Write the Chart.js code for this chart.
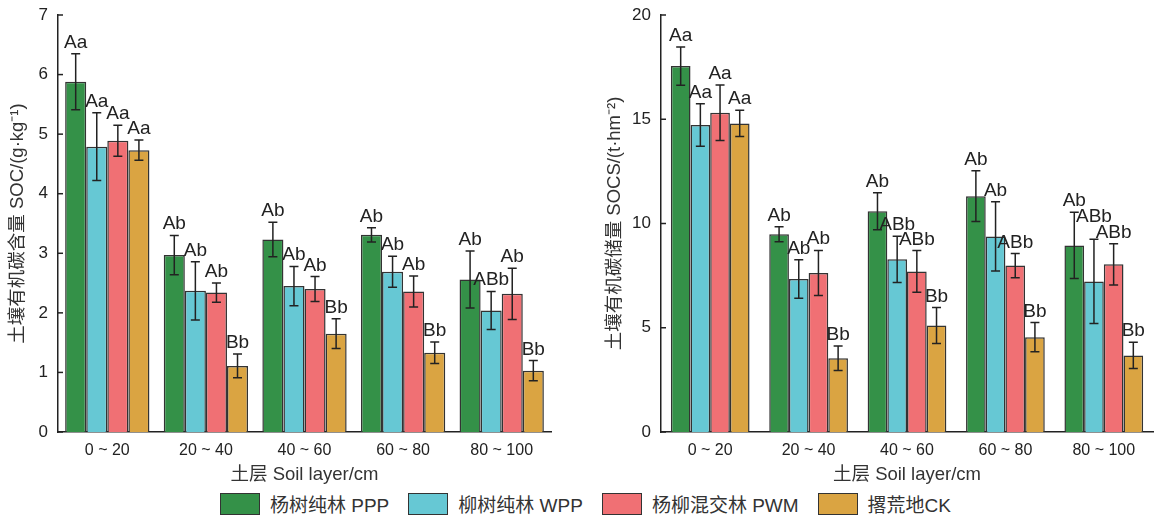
<!DOCTYPE html>
<html>
<head>
<meta charset="utf-8">
<script src="https://cdn.jsdelivr.net/npm/chart.js@4/dist/chart.umd.min.js"></script>
<style>
  body { margin: 0; background: #fff; }
  #wrap { position: relative; width: 1163px; height: 519px; font-family: "Liberation Sans", "Noto Sans CJK SC", sans-serif; }
  #c1 { position: absolute; left: 0; top: 0; }
  #c2 { position: absolute; left: 580px; top: 0; }
  #legend { position: absolute; left: 220px; top: 490px; display: flex; align-items: center; font-size: 19px; color: #333; }
  #legend .item { display: flex; align-items: center; margin-right: 19px; }
  #legend .box { width: 40px; height: 22px; border: 1.5px solid #333; margin-right: 10px; box-sizing: border-box; }
</style>
</head>
<body>
<div id="wrap">
  <canvas id="c1" width="580" height="490"></canvas>
  <canvas id="c2" width="583" height="490"></canvas>
  <div id="legend"></div>
</div>
<script>
// 土层
const layers = ["0 ~ 20", "20 ~ 40", "40 ~ 60", "60 ~ 80", "80 ~ 100"];
const seriesNames = ["杨树纯林 PPP", "柳树纯林 WPP", "杨柳混交林 PWM", "撂荒地CK"];
const colors = ["#349148", "#66c8d4", "#f07074", "#daa442"];

// SOC (g/kg)
const socPPP = [5.88, 2.97, 3.23, 3.31, 2.56];
const socWPP = [4.79, 2.37, 2.45, 2.69, 2.04];
const socPWM = [4.89, 2.34, 2.40, 2.36, 2.32];
const socCK  = [4.73, 1.11, 1.65, 1.33, 1.03];
const socPPPErr = [0.47, 0.33, 0.29, 0.12, 0.48];
const socWPPErr = [0.57, 0.49, 0.33, 0.26, 0.32];
const socPWMErr = [0.26, 0.16, 0.21, 0.26, 0.43];
const socCKErr  = [0.17, 0.20, 0.25, 0.18, 0.17];
const socPPPSig = ["Aa", "Ab", "Ab", "Ab", "Ab"];
const socWPPSig = ["Aa", "Ab", "Ab", "Ab", "ABb"];
const socPWMSig = ["Aa", "Ab", "Ab", "Ab", "Ab"];
const socCKSig  = ["Aa", "Bb", "Bb", "Bb", "Bb"];

// SOCS (t/hm2)
const socsPPP = [17.55, 9.48, 10.59, 11.31, 8.95];
const socsWPP = [14.72, 7.34, 8.28, 9.38, 7.22];
const socsPWM = [15.31, 7.63, 7.70, 7.98, 8.04];
const socsCK  = [14.80, 3.54, 5.11, 4.55, 3.67];
const socsPPPErr = [0.92, 0.36, 0.89, 1.22, 1.59];
const socsWPPErr = [1.02, 0.92, 1.11, 1.66, 2.02];
const socsPWMErr = [1.33, 1.08, 1.00, 0.58, 0.99];
const socsCKErr  = [0.63, 0.59, 0.86, 0.70, 0.63];
const socsPPPSig = ["Aa", "Ab", "Ab", "Ab", "Ab"];
const socsWPPSig = ["Aa", "Ab", "ABb", "Ab", "ABb"];
const socsPWMSig = ["Aa", "Ab", "ABb", "ABb", "ABb"];
const socsCKSig  = ["Aa", "Bb", "Bb", "Bb", "Bb"];

const fontFam = '"Liberation Sans", "Noto Sans CJK SC", sans-serif';

function hit(a, b) {
    const ox = Math.min(a.r, b.r) - Math.max(a.l, b.l);
    const oy = Math.min(a.b, b.b) - Math.max(a.t, b.t);
    return ox > 5 && oy > 3;
}

// 误差线 + 显著性字母
const errorBarPlugin = {
    id: "errorBars",
    afterDatasetsDraw(chart) {
        const ctx = chart.ctx;
        const y = chart.scales.y;
        const n = chart.data.labels.length;
        ctx.save();
        ctx.font = "19px " + fontFam;
        for (let j = 0; j < n; j++) {
            const boxes = [];
            chart.data.datasets.forEach((ds, i) => {
                const bar = chart.getDatasetMeta(i).data[j];
                const v = ds.data[j], e = ds.err[j];
                const yt = y.getPixelForValue(v + e);
                const yb = y.getPixelForValue(v - e);
                ctx.strokeStyle = "#222";
                ctx.lineWidth = 1.5;
                ctx.beginPath();
                ctx.moveTo(bar.x, yt); ctx.lineTo(bar.x, yb);
                ctx.moveTo(bar.x - 4.5, yt); ctx.lineTo(bar.x + 4.5, yt);
                ctx.moveTo(bar.x - 4.5, yb); ctx.lineTo(bar.x + 4.5, yb);
                ctx.stroke();
                const w = ctx.measureText(ds.sig[j]).width;
                const base = yt - 6;
                const box = { l: bar.x - w / 2, r: bar.x + w / 2, t: base - 14, b: base, txt: ds.sig[j], x: bar.x };
                boxes.push(box);
                // 与左侧字母重叠时, 把左侧字母上移
                let moved = true;
                while (moved) {
                    moved = false;
                    for (let a = boxes.length - 1; a > 0; a--) {
                        for (let b = a - 1; b >= 0; b--) {
                            if (hit(boxes[a], boxes[b])) {
                                const dy = boxes[b].b - (boxes[a].t - 2);
                                boxes[b].t -= dy; boxes[b].b -= dy;
                                moved = true;
                            }
                        }
                    }
                }
            });
            ctx.fillStyle = "#222";
            ctx.textAlign = "center";
            ctx.textBaseline = "alphabetic";
            boxes.forEach(b => ctx.fillText(b.txt, b.x, b.b));
        }
        ctx.restore();
    }
};

// y轴向内刻度
const innerTicks = {
    id: "innerTicks",
    afterDraw(chart) {
        const ctx = chart.ctx;
        const y = chart.scales.y;
        const left = chart.chartArea.left;
        ctx.save();
        ctx.strokeStyle = "#222";
        ctx.lineWidth = 1.5;
        y.ticks.forEach(t => {
            const py = y.getPixelForValue(t.value);
            ctx.beginPath();
            ctx.moveTo(left, py); ctx.lineTo(left + 5, py);
            ctx.stroke();
        });
        ctx.restore();
    }
};

function makeChart(id, values, errs, sigs, yMax, yStep, yTitle, catPct, padLeft, yWidth, padRight) {
    const datasets = values.map((v, i) => ({
        label: seriesNames[i],
        data: v,
        err: errs[i],
        sig: sigs[i],
        backgroundColor: colors[i],
        borderColor: "#333",
        borderWidth: 1.5,
        barPercentage: 1,
        categoryPercentage: catPct
    }));
    return new Chart(document.getElementById(id).getContext("2d"), {
        type: "bar",
        data: { labels: layers, datasets: datasets },
        options: {
            responsive: false,
            animation: false,
            devicePixelRatio: 1,
            layout: { padding: { top: 15, left: padLeft, right: padRight, bottom: 0 } },
            plugins: { legend: { display: false }, tooltip: { enabled: false } },
            scales: {
                x: {
                    grid: { display: false, drawTicks: false },
                    border: { color: "#222", width: 1.5 },
                    ticks: { color: "#222", font: { size: 16, family: fontFam }, padding: 9 },
                    title: { display: true, text: "土层 Soil layer/cm", color: "#333", font: { size: 18.5, family: fontFam }, padding: { top: 2, bottom: 4 } },
                    afterFit(s) { s.height = 58; s.paddingLeft = 0; s.paddingRight = 0; }
                },
                y: {
                    min: 0, max: yMax,
                    grid: { display: false, drawTicks: false },
                    border: { color: "#222", width: 1.5 },
                    ticks: { stepSize: yStep, color: "#222", font: { size: 17, family: fontFam }, padding: 10 },
                    title: { display: true, text: yTitle, color: "#333", font: { size: 18.5, family: fontFam }, padding: { top: 3, bottom: 4 } },
                    afterFit(s) { s.width = yWidth; s.paddingTop = 0; s.paddingBottom = 0; }
                }
            }
        },
        plugins: [errorBarPlugin, innerTicks]
    });
}

makeChart("c1",
    [socPPP, socWPP, socPWM, socCK],
    [socPPPErr, socWPPErr, socPWMErr, socCKErr],
    [socPPPSig, socWPPSig, socPWMSig, socCKSig],
    7, 1, "土壤有机碳含量 SOC/(g·kg⁻¹)", 0.855, 4, 54, 29);

makeChart("c2",
    [socsPPP, socsWPP, socsPWM, socsCK],
    [socsPPPErr, socsWPPErr, socsPWMErr, socsCKErr],
    [socsPPPSig, socsWPPSig, socsPWMSig, socsCKSig],
    20, 5, "土壤有机碳储量 SOCS/(t·hm⁻²)", 0.8, 21, 60, 10);

// 图例
const legend = document.getElementById("legend");
seriesNames.forEach((n, i) => {
    const item = document.createElement("div");
    item.className = "item";
    const box = document.createElement("div");
    box.className = "box";
    box.style.background = colors[i];
    const txt = document.createElement("span");
    txt.textContent = n;
    item.appendChild(box);
    item.appendChild(txt);
    legend.appendChild(item);
});
</script>
</body>
</html>
